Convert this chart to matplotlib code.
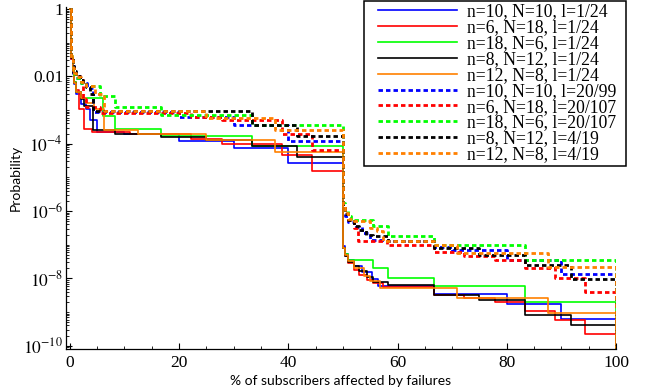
import numpy as np
import matplotlib
matplotlib.use('Agg')
import matplotlib.pyplot as plt
from matplotlib.patches import Rectangle
from matplotlib.ticker import LogLocator, NullFormatter, MultipleLocator, FixedLocator, FixedFormatter

plt.rcParams['mathtext.fontset'] = 'stix'

labels = ['n=10, N=10, l=1/24', 'n=6, N=18, l=1/24', 'n=18, N=6, l=1/24',
          'n=8, N=12, l=1/24', 'n=12, N=8, l=1/24', 'n=10, N=10, l=20/99',
          'n=6, N=18, l=20/107', 'n=18, N=6, l=20/107', 'n=8, N=12, l=4/19',
          'n=12, N=8, l=4/19']
colors = ['#0000ff', '#ff0000', '#00ff00', '#000000', '#ff8000'] * 2

# step breakpoints: % of subscribers affected -> probability (post step)
x_blue_s = [0, 0.3, 0.5, 0.8, 1.2, 2.0, 3.0, 3.7, 5.0, 10, 20, 30, 40,
            50, 50.4, 51, 52, 53.5, 55.3, 56.5, 66.7, 80, 90, 100]
y_blue_s = [1, 3.3e-2, 1.2e-2, 6e-3, 3.1e-3, 1.5e-3, 1.1e-3, 4.9e-4, 2.3e-4, 2.0e-4, 1.2e-4, 7.7e-5, 2.6e-5,
            9e-8, 5.2e-8, 3.5e-8, 2.3e-8, 1.5e-8, 9.6e-9, 6.0e-9, 3.5e-9, 1.75e-9, 6.3e-10, 1e-12]

x_red_s = [0, 0.3, 0.5, 0.8, 1.2, 1.6, 2.6, 4.0, 11.1, 22.2, 27.8, 38.9, 44.4,
           50, 50.4, 51, 52, 53, 54.5, 55.6, 57.4, 66.7, 72.2, 77.8, 83.3, 88.9, 94.4, 100]
y_red_s = [1, 3.3e-2, 1.5e-2, 7e-3, 4e-3, 1.1e-3, 2.8e-4, 2.3e-4, 1.9e-4, 1.4e-4, 1.0e-4, 4.5e-5, 1.5e-5,
           7.9e-8, 4.6e-8, 2.9e-8, 1.8e-8, 1.3e-8, 9e-9, 7.3e-9, 5.6e-9, 3.2e-9, 2.6e-9, 2.0e-9, 1.1e-9,
           5.9e-10, 2.3e-10, 1e-12]

x_green_s = [0, 0.3, 0.5, 0.8, 1.2, 2.0, 6.0, 8.33, 16.67, 33.33,
             50, 50.4, 51, 55.6, 58.3, 66.7, 83.3, 100]
y_green_s = [1, 4e-2, 1.5e-2, 7e-3, 3.5e-3, 2.3e-3, 6.8e-4, 2.8e-4, 1.7e-4, 8.3e-5,
             7.9e-8, 5.2e-8, 3.5e-8, 2.0e-8, 1.0e-8, 6.0e-9, 2.0e-9, 1e-12]

x_black_s = [0, 0.3, 0.5, 0.8, 1.2, 2.0, 2.6, 4.2, 8.33, 16.67, 25, 33.33, 41.67,
             50, 50.4, 51, 52, 53, 54.5, 55.6, 58.3, 66.7, 75, 83.3, 91.7, 100]
y_black_s = [1, 3.5e-2, 1.3e-2, 6.5e-3, 3.5e-3, 2.2e-3, 1.3e-3, 2.5e-4, 2.0e-4, 1.6e-4, 1.25e-4, 8.5e-5, 4.0e-5,
             7.9e-8, 4.6e-8, 3.1e-8, 2.3e-8, 1.65e-8, 1.1e-8, 7.8e-9, 6.3e-9, 3.2e-9, 2.3e-9, 8.3e-10,
             4.2e-10, 1e-12]

x_orange_s = [0, 0.3, 0.5, 0.8, 1.2, 2.0, 3.0, 4.5, 6.25, 12.5, 25, 37.5,
              50, 50.4, 51, 52.1, 53.8, 55, 56.8, 70.8, 87.5, 100]
y_orange_s = [1, 4e-2, 1.4e-2, 6.5e-3, 3.5e-3, 2.3e-3, 1.6e-3, 1.1e-3, 2.5e-4, 1.9e-4, 1.3e-4, 5.6e-5,
              7.9e-8, 5e-8, 3.3e-8, 2.0e-8, 1.2e-8, 8.3e-9, 5.2e-9, 2.6e-9, 9.5e-10, 1e-12]

x_blue_d = [0, 0.3, 0.5, 0.8, 1.2, 2.0, 3.2, 4.3, 10, 20, 30, 40,
            50, 50.4, 51, 52, 53.5, 55, 57.5, 66.7, 70, 80, 90, 100]
y_blue_d = [1, 3e-2, 2e-2, 1.3e-2, 9e-3, 6.5e-3, 4.5e-3, 9e-4, 8.5e-4, 6.4e-4, 3.7e-4, 1.2e-4,
            1.2e-6, 7e-7, 4.7e-7, 3.4e-7, 2.2e-7, 1.4e-7, 1.3e-7, 8.5e-8, 6.9e-8, 3.5e-8, 1.35e-8, 1e-12]

x_red_d = [0, 0.3, 0.5, 0.8, 1.2, 1.8, 2.4, 3.0, 5.56, 22.2, 27.8, 38.9, 44.4,
           50, 50.4, 51, 52, 52.7, 58, 66.7, 72.2, 77.8, 83.3, 88.9, 94.4, 100]
y_red_d = [1, 3e-2, 1.8e-2, 1.3e-2, 1.0e-2, 8e-3, 2.2e-3, 1.2e-3, 8.3e-4, 6.4e-4, 4.9e-4, 2.0e-4, 6.7e-5,
           1.4e-6, 8.6e-7, 5.4e-7, 3.1e-7, 1.3e-7, 9.8e-8, 6.0e-8, 4.6e-8, 3.5e-8, 2.0e-8, 1.0e-8,
           4.0e-9, 1e-12]

x_green_d = [0, 0.3, 0.5, 0.8, 1.2, 2.0, 3.0, 5.56, 8.33, 16.67, 33.33,
             50, 50.4, 51, 51.5, 55.6, 58.3, 66.7, 83.3, 100]
y_green_d = [1, 3e-2, 1.8e-2, 1.2e-2, 9e-3, 6.5e-3, 5.3e-3, 2.7e-3, 1.2e-3, 7.3e-4, 3.5e-4,
             1.7e-6, 9.8e-7, 7e-7, 5.4e-7, 3.6e-7, 1.8e-7, 9.8e-8, 3.5e-8, 1e-12]

x_black_d = [0, 0.3, 0.5, 0.8, 1.2, 1.8, 2.4, 3.0, 3.7, 4.2, 33.33, 41.67,
             50, 50.4, 51, 52, 53, 54.2, 55.6, 58.3, 66.7, 75, 83.3, 91.7, 100]
y_black_d = [1, 3.5e-2, 2e-2, 1.4e-2, 1e-2, 8e-3, 6.5e-3, 5e-3, 3.1e-3, 9.5e-4, 3.7e-4, 1.7e-4,
             1.4e-6, 8e-7, 5.4e-7, 3.6e-7, 2.7e-7, 2e-7, 1.8e-7, 1.3e-7, 7.9e-8, 4.9e-8, 2.5e-8,
             9.6e-9, 1e-12]

x_orange_d = [0, 0.3, 0.5, 0.8, 1.2, 2.0, 3.0, 4.6, 6.25, 25, 37.5,
              50, 50.4, 51, 52, 55, 56.3, 57.3, 66.7, 70.8, 87.5, 100]
y_orange_d = [1, 3e-2, 1.8e-2, 1.3e-2, 9.5e-3, 7e-3, 5.3e-3, 3e-3, 9.5e-4, 6e-4, 2.6e-4,
              1.5e-6, 9e-7, 6e-7, 5e-7, 3.1e-7, 2.5e-7, 1.3e-7, 9.8e-8, 5.6e-8, 2.2e-8, 1e-12]

series = [(x_blue_s, y_blue_s), (x_red_s, y_red_s), (x_green_s, y_green_s),
          (x_black_s, y_black_s), (x_orange_s, y_orange_s),
          (x_blue_d, y_blue_d), (x_red_d, y_red_d), (x_green_d, y_green_d),
          (x_black_d, y_black_d), (x_orange_d, y_orange_d)]

W, H = 652, 391
fig = plt.figure(figsize=(W / 100, H / 100), dpi=100)
ax = fig.add_axes([66 / W, 1 - 349 / H, 550 / W, 342 / H])

handles = []
for i, (xs, ys) in enumerate(series):
    if i < 5:
        ln, = ax.step(xs, ys, where='post', color=colors[i], lw=1.2)
    else:
        ln, = ax.step(xs, ys, where='post', color=colors[i], lw=2.0, dashes=(1.6, 1.1))
    handles.append(ln)

ax.set_yscale('log')
ax.set_xlim(-0.7, 100)
ax.set_ylim(8e-11, 1.15)

for s in ['top', 'right']:
    ax.spines[s].set_visible(False)
for s in ['left', 'bottom']:
    ax.spines[s].set_linewidth(0.9)

ax.xaxis.set_major_locator(MultipleLocator(20))
ax.xaxis.set_minor_locator(MultipleLocator(5))
ax.yaxis.set_major_locator(FixedLocator([1, 1e-2, 1e-4, 1e-6, 1e-8, 1e-10]))
ax.yaxis.set_major_formatter(FixedFormatter(['1', '0.01', r'$10^{-4}$', r'$10^{-6}$',
                                             r'$10^{-8}$', r'$10^{-10}$']))
ax.yaxis.set_minor_locator(LogLocator(base=10, subs=np.arange(1, 10), numticks=40))
ax.yaxis.set_minor_formatter(NullFormatter())
ax.tick_params(which='both', direction='in', top=False, right=False)
ax.tick_params(which='major', length=4, width=0.8, labelsize=12.5)
ax.tick_params(which='minor', length=2, width=0.6)
ax.tick_params(axis='y', pad=2)
ax.tick_params(axis='x', pad=4)
for lab in ax.get_xticklabels() + ax.get_yticklabels():
    lab.set_family('Liberation Serif')

ax.set_xlabel('% of subscribers affected by failures', family='Lato', fontsize=10, labelpad=3)
ax.set_ylabel('Probability', family='Lato', fontsize=10, labelpad=1)

fig.legend(handles, labels, loc='upper left', bbox_to_anchor=(378 / W, 1 - 3.0 / H),
           bbox_transform=fig.transFigure, frameon=False, borderpad=0, borderaxespad=0,
           handlelength=4.5, handletextpad=0.57, labelspacing=-0.06,
           prop={'family': 'Liberation Serif', 'size': 12.7})
fig.add_artist(Rectangle((364 / W, 1 - 166 / H), 262 / W, 165 / H, transform=fig.transFigure,
                         fill=False, ec='black', lw=1.1))

fig.savefig('out.png', dpi=100)
